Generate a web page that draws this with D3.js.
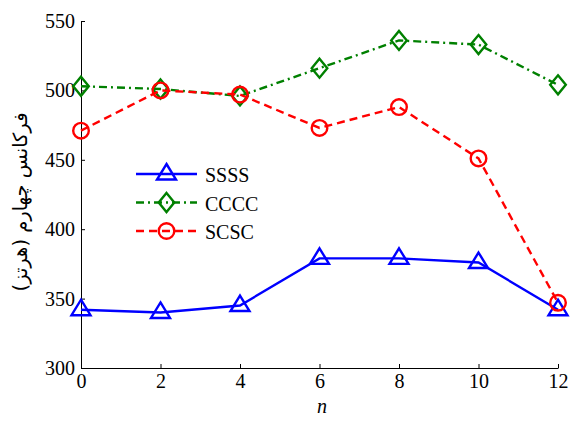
<!DOCTYPE html>
<html>
<head>
<meta charset="utf-8">
<script src="https://cdn.jsdelivr.net/npm/d3@7"></script>
<style>
body { margin: 0; background: #fff; }
</style>
</head>
<body>
<script>
var width = 575,
    height = 423;

// data
var nValues = [0, 2, 4, 6, 8, 10, 12];
var ssss = [342, 340, 345, 379, 379, 376, 342];
var cccc = [503, 501, 496, 516, 536, 533, 504];
var scsc = [471, 500, 497, 473, 488, 451, 347];
var seriesNames = ['SSSS', 'CCCC', 'SCSC'];
var yTicks = [300, 350, 400, 450, 500, 550];
var xTicks = [0, 2, 4, 6, 8, 10, 12];

var serif = '"Liberation Serif", "Times New Roman", serif';

var series = [
  {name: seriesNames[0], values: ssss, color: '#0000ff', dash: null, marker: 'triangle'},
  {name: seriesNames[1], values: cccc, color: '#008000', dash: '8,4,2,4', marker: 'diamond'},
  {name: seriesNames[2], values: scsc, color: '#ff0000', dash: '8,5', marker: 'circle'}
];

var svg = d3.select('body')
            .append('svg')
            .attr('width', width)
            .attr('height', height)

var x = d3.scaleLinear().domain([0, 12]).range([81, 558]);
var y = d3.scaleLinear().domain([300, 550]).range([368, 21]);

// axes
var xAxis = svg.append('g')
    .attr('transform', 'translate(0,368)')
    .call(d3.axisBottom(x).tickValues(xTicks).tickSize(-4).tickPadding(6).tickSizeOuter(0))
xAxis.select('.domain').attr('stroke', '#000')
xAxis.selectAll('text').attr('fill', '#000')
    .style('font-family', serif).style('font-size', '20px')

var yAxis = svg.append('g')
    .attr('transform', 'translate(81,0)')
    .call(d3.axisLeft(y).tickValues(yTicks).tickSize(-4).tickPadding(6).tickSizeOuter(0))
yAxis.select('.domain').attr('stroke', '#000')
yAxis.selectAll('text').attr('fill', '#000')
    .style('font-family', serif).style('font-size', '20px')

// axis labels
svg.append('text')
    .attr('x', 322)
    .attr('y', 413)
    .attr('text-anchor', 'middle')
    .style('font-family', serif)
    .style('font-size', '20px')
    .style('font-style', 'italic')
    .text('n')

svg.append('text')
    .attr('transform', 'translate(27,202) rotate(-90)')
    .attr('text-anchor', 'middle')
    .style('font-family', '"DejaVu Sans", sans-serif')
    .style('font-size', '19.5px')
    .attr('direction', 'rtl')
    .text('فرکانس چهارم (هرتز)')

function drawMarker(g, type, color, cx, cy) {
  if (type === 'triangle') {
    g.append('path')
      .attr('d', 'M0,-10L9.5,5.5L-9.5,5.5Z')
      .attr('transform', 'translate(' + cx + ',' + cy + ')')
      .attr('fill', 'none').attr('stroke', color).attr('stroke-width', 2.4)
  } else if (type === 'diamond') {
    g.append('path')
      .attr('d', 'M0,-9.5L7.8,0L0,9.5L-7.8,0Z')
      .attr('transform', 'translate(' + cx + ',' + cy + ')')
      .attr('fill', 'none').attr('stroke', color).attr('stroke-width', 2.4)
  } else {
    g.append('circle')
      .attr('cx', cx).attr('cy', cy).attr('r', 7.8)
      .attr('fill', 'none').attr('stroke', color).attr('stroke-width', 2.4)
  }
}

var line = d3.line()
    .x(function(d, i) { return x(nValues[i]) })
    .y(function(d) { return y(d) })

series.forEach(function(s) {
  var g = svg.append('g')
  g.append('path')
    .datum(s.values)
    .attr('d', line)
    .attr('fill', 'none')
    .attr('stroke', s.color)
    .attr('stroke-width', 2.4)
    .attr('stroke-dasharray', s.dash)
  s.values.forEach(function(v, i) {
    drawMarker(g, s.marker, s.color, x(nValues[i]), y(v))
  })
})

// legend
var legend = svg.append('g').attr('transform', 'translate(136,174)')
series.forEach(function(s, i) {
  var row = legend.append('g').attr('transform', 'translate(0,' + (i * 28.5) + ')')
  row.append('line')
    .attr('x1', 0).attr('x2', 61).attr('y1', 0).attr('y2', 0)
    .attr('stroke', s.color).attr('stroke-width', 2.4)
    .attr('stroke-dasharray', s.dash)
  drawMarker(row, s.marker, s.color, 30.5, 0)
  row.append('text')
    .attr('x', 69).attr('y', 8)
    .style('font-family', serif)
    .style('font-size', '20px')
    .text(s.name)
})
</script>
</body>
</html>
